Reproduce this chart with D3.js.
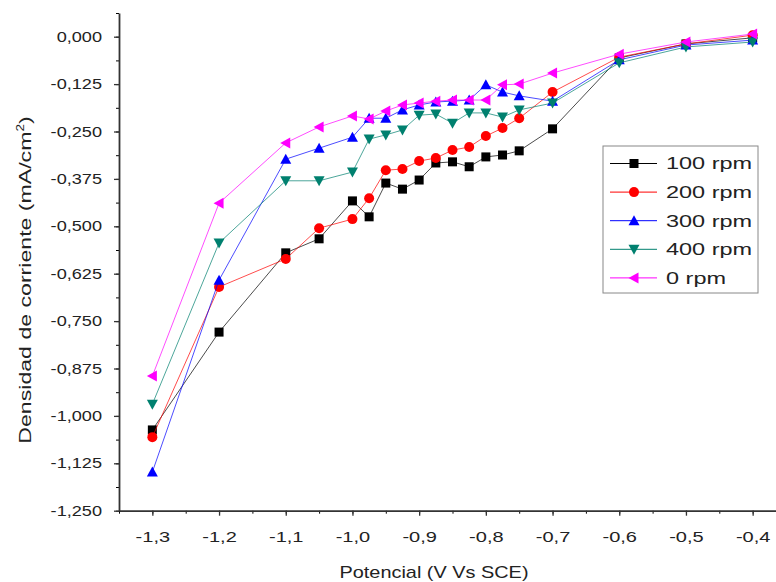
<!DOCTYPE html>
<html>
<head>
<meta charset="utf-8">
<script src="https://cdn.jsdelivr.net/npm/d3@7"></script>
<style>
  body { margin: 0; background: #fff; }
  text { font-family: "Liberation Sans", Arial, sans-serif; fill: #222; }
</style>
</head>
<body>
<div id="chart"></div>
<script>
// chart size and plot box
const WIDTH = 776;
const HEIGHT = 582;
const LEFT = 119;
const RIGHT = 786; // x axis runs past the cropped edge
const TOP = 13;
const BOTTOM = 510.7;

// potential (V vs SCE)
const potencial = [-1.3, -1.2, -1.1, -1.05, -1.0, -0.975, -0.95, -0.925, -0.9, -0.875,
  -0.85, -0.825, -0.8, -0.775, -0.75, -0.7, -0.6, -0.5, -0.4];

// current density (mA/cm2), one array per rotation speed
const rpm100 = [-1.037, -0.779, -0.570, -0.533, -0.433, -0.475, -0.386, -0.402, -0.378, -0.333,
  -0.330, -0.343, -0.317, -0.312, -0.301, -0.243, -0.056, -0.019, -0.003];
const rpm200 = [-1.056, -0.660, -0.586, -0.505, -0.481, -0.426, -0.352, -0.349, -0.328, -0.320,
  -0.299, -0.291, -0.262, -0.241, -0.215, -0.146, -0.054, -0.019, 0.004];
const rpm300 = [-1.148, -0.642, -0.323, -0.294, -0.265, -0.215, -0.215, -0.193, -0.180, -0.172,
  -0.170, -0.167, -0.127, -0.146, -0.156, -0.170, -0.061, -0.022, -0.009];
const rpm400 = [-0.969, -0.544, -0.380, -0.380, -0.357, -0.270, -0.259, -0.246, -0.207, -0.204,
  -0.228, -0.201, -0.201, -0.212, -0.193, -0.175, -0.069, -0.027, -0.014];
const rpm0 = [-0.895, -0.439, -0.280, -0.238, -0.209, -0.217, -0.196, -0.180, -0.175, -0.170,
  -0.167, -0.167, -0.167, -0.127, -0.125, -0.096, -0.046, -0.014, 0.007];

const SERIES = [
  { name: "100 rpm", values: rpm100, color: "#000000", symbol: "square" },
  { name: "200 rpm", values: rpm200, color: "#ff0000", symbol: "circle" },
  { name: "300 rpm", values: rpm300, color: "#0000ff", symbol: "up" },
  { name: "400 rpm", values: rpm400, color: "#00806f", symbol: "down" },
  { name: "0 rpm", values: rpm0, color: "#ff00ff", symbol: "left" },
];

const xTicks = [-1.3, -1.2, -1.1, -1.0, -0.9, -0.8, -0.7, -0.6, -0.5, -0.4];
const yTicks = [0, -0.125, -0.25, -0.375, -0.5, -0.625, -0.75, -0.875, -1.0, -1.125, -1.25];

// comma decimals and plain hyphen minus, as in the original
const locale = d3.formatLocale({ decimal: ",", thousands: ".", grouping: [3], currency: ["", ""], minus: "-" });

// the original's lettering is wider than Arial, so stretch text horizontally
function stretch(sel, k) {
  sel.each(function () {
    const len = this.getComputedTextLength();
    d3.select(this).attr("textLength", len * k).attr("lengthAdjust", "spacingAndGlyphs");
  });
}

const xScale = d3.scaleLinear().domain([-1.35, -0.35]).range([LEFT, RIGHT]);
const yScale = d3.scaleLinear().domain([-1.25, 0.0625]).range([BOTTOM, TOP]);

const svg = d3.select("#chart")
  .append("svg")
  .attr("width", WIDTH)
  .attr("height", HEIGHT);

// minor ticks first, then major axes on top
svg.append("g")
  .attr("transform", `translate(0, ${BOTTOM})`)
  .call(d3.axisBottom(xScale).tickValues(d3.range(-1.35, -0.34, 0.05)).tickSize(3).tickFormat(""))
  .call(g => g.select(".domain").remove());
svg.append("g")
  .attr("transform", `translate(${LEFT}, 0)`)
  .call(d3.axisLeft(yScale).tickValues(d3.range(-1.25, 0.07, 0.0625)).tickSize(3).tickFormat(""))
  .call(g => g.select(".domain").remove());

const xAxis = svg.append("g")
  .attr("transform", `translate(0, ${BOTTOM})`)
  .call(d3.axisBottom(xScale).tickValues(xTicks).tickSize(5).tickSizeOuter(0).tickPadding(16)
    .tickFormat(locale.format(".1f")));
const yAxis = svg.append("g")
  .attr("transform", `translate(${LEFT}, 0)`)
  .call(d3.axisLeft(yScale).tickValues(yTicks).tickSize(5).tickSizeOuter(0).tickPadding(12)
    .tickFormat(locale.format(".3f")));

[xAxis, yAxis].forEach(ax => {
  ax.selectAll("text").attr("font-size", 14.5).attr("fill", "#333");
  ax.selectAll("line").attr("stroke", "#333").attr("stroke-width", 1.3);
  ax.select(".domain").attr("stroke", "#333").attr("stroke-width", 1.8);
});
stretch(xAxis.selectAll("text"), 1.38);
stretch(yAxis.selectAll("text"), 1.25);

// axis titles
const xTitle = svg.append("text")
  .attr("x", 434)
  .attr("y", 578)
  .attr("text-anchor", "middle")
  .attr("font-size", 17)
  .text("Potencial (V Vs SCE)");
stretch(xTitle, 1.17);

const yTitle = svg.append("text")
  .attr("transform", "translate(31, 280) rotate(-90) scale(1.36, 1)")
  .attr("text-anchor", "middle")
  .attr("font-size", 17);
yTitle.append("tspan").text("Densidad de corriente (mA/cm");
yTitle.append("tspan").attr("font-size", 10).attr("dy", -7).text("2");
yTitle.append("tspan").attr("dy", 7).text(")");

// symbol shapes
function drawMarker(sel, symbol, color, size) {
  const s = size / 2;
  if (symbol === "square") {
    sel.append("rect").attr("x", -s).attr("y", -s).attr("width", size).attr("height", size).attr("fill", color);
  } else if (symbol === "circle") {
    sel.append("circle").attr("r", s + 0.5).attr("fill", color);
  } else {
    const pts = {
      up: [[0, -s - 1], [s + 1, s], [-s - 1, s]],
      down: [[0, s + 1], [s + 1, -s], [-s - 1, -s]],
      left: [[-s - 1, 0], [s, -s - 1], [s, s + 1]],
    }[symbol];
    sel.append("polygon").attr("points", pts.map(p => p.join(",")).join(" ")).attr("fill", color);
  }
}

const line = d3.line()
  .x(d => xScale(d[0]))
  .y(d => yScale(d[1]));

const plot = svg.append("g").attr("class", "series");

SERIES.forEach(sr => {
  const pts = potencial.map((x, i) => [x, sr.values[i]]);
  plot.append("path")
    .datum(pts)
    .attr("d", line)
    .attr("fill", "none")
    .attr("stroke", sr.color)
    .attr("stroke-width", 1)
    .attr("stroke-opacity", 0.7);
  plot.append("g")
    .selectAll("g")
    .data(pts)
    .join("g")
    .attr("transform", d => `translate(${xScale(d[0])}, ${yScale(d[1])})`)
    .each(function () { drawMarker(d3.select(this), sr.symbol, sr.color, 9); });
});

// legend
const legend = svg.append("g").attr("transform", "translate(603, 146)");
legend.append("rect")
  .attr("width", 155)
  .attr("height", 147)
  .attr("fill", "#fff")
  .attr("stroke", "#888")
  .attr("stroke-width", 1);

const rows = legend.selectAll(".legend-row")
  .data(SERIES)
  .join("g")
  .attr("class", "legend-row")
  .attr("transform", (d, i) => `translate(0, ${17.5 + i * 28.6})`);
rows.append("line")
  .attr("x1", 7).attr("x2", 54)
  .attr("stroke", d => d.color)
  .attr("stroke-width", 1);
rows.append("g")
  .attr("transform", "translate(31, 0)")
  .each(function (d) { drawMarker(d3.select(this), d.symbol, d.color, 9); });
const legendText = rows.append("text")
  .attr("x", 63)
  .attr("dy", "0.35em")
  .attr("font-size", 17)
  .text(d => d.name);
stretch(legendText, 1.38);
</script>
</body>
</html>
